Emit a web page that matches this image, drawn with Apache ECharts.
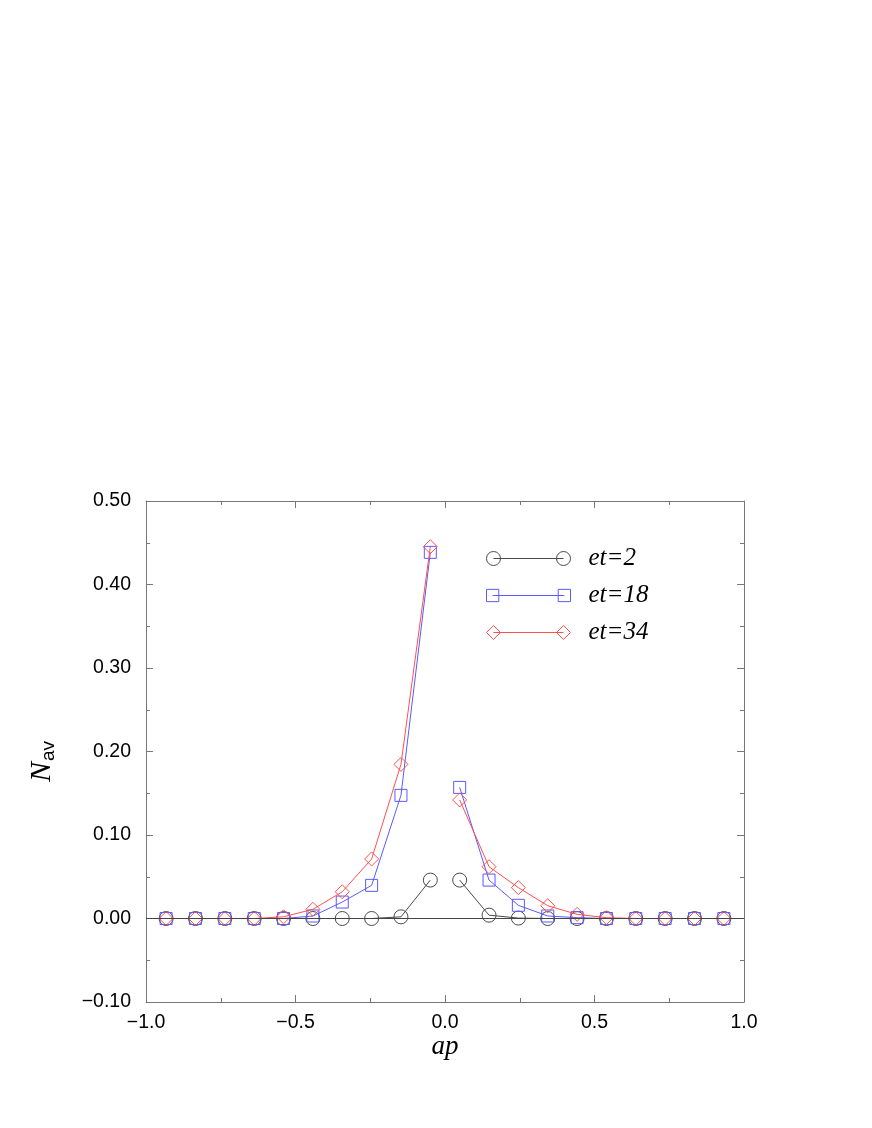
<!DOCTYPE html>
<html>
<head>
<meta charset="utf-8">
<script src="https://cdn.jsdelivr.net/npm/echarts@6/dist/echarts.min.js"></script>
<style>
  html, body { margin: 0; padding: 0; background: #fff; }
</style>
</head>
<body>
<div id="chart" style="width: 872px; height: 1128px;"></div>
<script>
// ap values (left and right of zero)
const apLeft = [-0.9327, -0.8345, -0.7363, -0.6381, -0.5400, -0.4418, -0.3436, -0.2454, -0.1473, -0.0491];
const apRight = [0.0491, 0.1473, 0.2454, 0.3436, 0.4418, 0.5400, 0.6381, 0.7363, 0.8345, 0.9327];

// N_av
const et2Left = [0, 0, 0, 0, 0, 0, 0, 0, 0.002, 0.046];
const et2Right = [0.046, 0.004, 0.0005, 0, 0, 0, 0, 0, 0, 0];
const et18Left = [0, 0, 0, 0, 0, 0.003, 0.0197, 0.0397, 0.1475, 0.4385];
const et18Right = [0.157, 0.046, 0.0158, 0.003, 0.001, 0, 0, 0, 0, 0];
const et34Left = [0, 0, 0, 0, 0.002, 0.011, 0.032, 0.0713, 0.1846, 0.4453];
const et34Right = [0.142, 0.062, 0.037, 0.0153, 0.005, 0.001, 0, 0, 0, 0];

const seriesNames = ['et=2', 'et=18', 'et=34'];
const colors = ['#4a4a4a', '#5a5aff', '#ff5050'];

const yTicks = { min: -0.1, max: 0.5, step: 0.1 };
const xTicks = { min: -1.0, max: 1.0, step: 0.5 };

// legend icons: marker - line - marker
const iconPaths = [
  'path://M0,7 A7,7 0 1,1 14,7 A7,7 0 1,1 0,7 Z M7,7 L77,7 M70,7 A7,7 0 1,1 84,7 A7,7 0 1,1 70,7 Z',
  'path://M1,1 L13,1 L13,13 L1,13 Z M7,7 L77,7 M71,1 L83,1 L83,13 L71,13 Z',
  'path://M0,7 L7,0 L14,7 L7,14 Z M7,7 L77,7 M70,7 L77,0 L84,7 L77,14 Z'
];
const symbols = ['circle', 'rect', 'diamond'];
const symbolSizes = [14, 12, 14];

function pairs(left, right) {
  const d = apLeft.map((x, i) => [x, left[i]]);
  d.push([0, '-']);
  return d.concat(apRight.map((x, i) => [x, right[i]]));
}

const seriesData = [
  pairs(et2Left, et2Right),
  pairs(et18Left, et18Right),
  pairs(et34Left, et34Right)
];

const fmtY = v => v.toFixed(2).replace('-', '\u2212');
const fmtX = v => v.toFixed(1).replace('-', '\u2212');

const frame = { show: true, lineStyle: { color: '#777', width: 1 } };
const tickStyle = { show: true, inside: true, length: 7, lineStyle: { color: '#777' } };
const minorStyle = { show: true, splitNumber: 2, length: 4, lineStyle: { color: '#777' } };

const chart = echarts.init(document.getElementById('chart'));

const option = {
  backgroundColor: '#fff',
  animation: false,
  color: colors,
  grid: { left: 146, top: 501, width: 598, height: 501, containLabel: false },
  legend: {
    orient: 'vertical',
    left: 486,
    top: 546,
    padding: 0,
    itemWidth: 84,
    itemHeight: 14,
    itemGap: 12,
    selectedMode: false,
    textStyle: {
      fontFamily: 'Liberation Serif',
      fontStyle: 'italic',
      fontSize: 25,
      color: '#000',
      lineHeight: 14,
      padding: [0, 0, 0, 13]
    },
    data: seriesNames.map((n, i) => ({
      name: n,
      icon: iconPaths[i],
      itemStyle: { color: 'rgba(0,0,0,0)', borderColor: colors[i], borderWidth: 1 },
      lineStyle: { color: colors[i], width: 1 }
    }))
  },
  xAxis: [
    {
      type: 'value', min: xTicks.min, max: xTicks.max, interval: xTicks.step,
      position: 'bottom',
      axisLine: Object.assign({ onZero: false }, frame),
      axisTick: tickStyle, minorTick: minorStyle,
      splitLine: { show: false },
      axisLabel: { formatter: fmtX, fontFamily: 'Liberation Sans', fontSize: 19.5, color: '#000', margin: 11 },
      name: 'ap', nameLocation: 'middle', nameGap: 30,
      nameTextStyle: { fontFamily: 'Liberation Serif', fontStyle: 'italic', fontSize: 27, color: '#000' }
    },
    {
      type: 'value', min: xTicks.min, max: xTicks.max, interval: xTicks.step,
      position: 'top',
      axisLine: Object.assign({ onZero: false }, frame),
      axisTick: tickStyle, minorTick: minorStyle,
      splitLine: { show: false }, axisLabel: { show: false }
    }
  ],
  yAxis: [
    {
      type: 'value', min: yTicks.min, max: yTicks.max, interval: yTicks.step,
      position: 'left',
      axisLine: Object.assign({ onZero: false }, frame),
      axisTick: tickStyle, minorTick: minorStyle,
      splitLine: { show: false },
      axisLabel: { formatter: fmtY, fontFamily: 'Liberation Sans', fontSize: 19.5, color: '#000', margin: 15 },
      name: '{a|N}{b|av}', nameLocation: 'middle', nameGap: 88, nameRotate: 90,
      nameTextStyle: {
        padding: [0, 20, 0, 0],
        rich: {
          a: { fontFamily: 'Liberation Serif', fontStyle: 'italic', fontSize: 30, color: '#000' },
          b: { fontFamily: 'Liberation Sans', fontSize: 19, color: '#000', padding: [12, 0, 0, 1] }
        }
      }
    },
    {
      type: 'value', min: yTicks.min, max: yTicks.max, interval: yTicks.step,
      position: 'right',
      axisLine: Object.assign({ onZero: false }, frame),
      axisTick: tickStyle, minorTick: minorStyle,
      splitLine: { show: false }, axisLabel: { show: false }
    }
  ],
  series: seriesData.map((d, i) => ({
    name: seriesNames[i],
    type: 'line',
    data: d,
    xAxisIndex: 0,
    yAxisIndex: 0,
    connectNulls: false,
    color: colors[i],
    symbol: symbols[i],
    symbolSize: symbolSizes[i],
    lineStyle: { color: colors[i], width: 1 },
    itemStyle: { color: 'rgba(0,0,0,0)', borderColor: colors[i], borderWidth: 1 },
    z: 2 + i,
    markLine: i === 0 ? {
      silent: true, symbol: 'none', label: { show: false },
      lineStyle: { color: '#444', width: 1, type: 'solid' },
      data: [{ yAxis: 0 }]
    } : undefined
  }))
};

chart.setOption(option);
</script>
</body>
</html>
